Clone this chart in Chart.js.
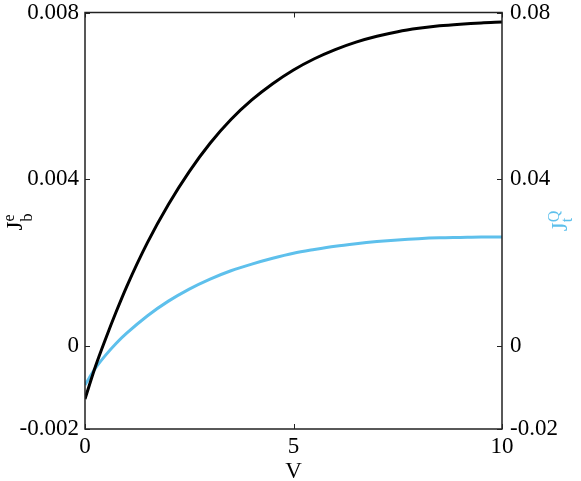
<!DOCTYPE html>
<html lang="en">
<head>
    <meta charset="UTF-8">
    <title>Jb and Jt vs V</title>
    <style>
        html, body { margin: 0; padding: 0; background: #fff; }
        #chart { display: block; }
    </style>
    <script src="https://cdn.jsdelivr.net/npm/chart.js@4/dist/chart.umd.min.js"></script>
</head>
<body>
<canvas id="chart" width="581" height="481"></canvas>
<script>
    // values
    const vValues = [0, 0.25, 0.5, 0.75, 1, 1.5, 2, 2.5, 3, 3.5, 4, 4.5, 5, 5.5, 6, 6.5, 7, 7.5, 8, 8.5, 9, 9.5, 10];
    const jbValues = [-0.00128, -0.00050, 0.00018, 0.00082, 0.00142, 0.00248, 0.00339, 0.00418, 0.00486, 0.00543,
        0.00590, 0.00629, 0.00662, 0.00689, 0.00711, 0.00729, 0.00743, 0.00754, 0.00762, 0.00768, 0.00772, 0.00775, 0.00777];
    const jtValues = [-0.0094, -0.0054, -0.0022, 0.0006, 0.0030, 0.0072, 0.0107, 0.0136, 0.0160, 0.0180,
        0.0196, 0.0210, 0.0222, 0.0231, 0.0239, 0.0245, 0.0250, 0.0254, 0.0257, 0.0259, 0.0260, 0.0261, 0.0261];

    const xTicks = [0, 5, 10];
    const xTickLabels = ['0', '5', '10'];
    const leftTicks = [-0.002, 0, 0.004, 0.008];
    const leftTickLabels = ['-0.002', '0', '0.004', '0.008'];
    const rightTicks = [-0.02, 0, 0.04, 0.08];
    const rightTickLabels = ['-0.02', '0', '0.04', '0.08'];

    const BLUE = '#5ec0ec';
    const FONT = 'Liberation Serif';
    const tickFont = { family: FONT, size: 23 };

    function setTicks(values) {
        return function (scale) {
            scale.ticks = values.map(v => ({ value: v }));
        };
    }
    function labelFrom(values, labels) {
        return function (value) {
            const i = values.findIndex(v => Math.abs(v - value) < 1e-9);
            return i >= 0 ? labels[i] : '';
        };
    }

    // frame, inward ticks and the axis titles with sub/superscripts
    const framePlugin = {
        id: 'frame',
        afterDraw(chart) {
            const ctx = chart.ctx;
            const a = chart.chartArea;
            const sx = chart.scales.x, sy = chart.scales.y, sy1 = chart.scales.y1;
            const tl = 5;
            ctx.save();
            ctx.strokeStyle = '#222';
            ctx.lineWidth = 1.5;
            ctx.strokeRect(a.left, a.top, a.right - a.left, a.bottom - a.top);
            ctx.lineWidth = 1;
            ctx.beginPath();
            xTicks.forEach(v => {
                const px = Math.round(sx.getPixelForValue(v)) + 0.5;
                ctx.moveTo(px, a.bottom); ctx.lineTo(px, a.bottom - tl);
                ctx.moveTo(px, a.top); ctx.lineTo(px, a.top + tl);
            });
            leftTicks.forEach(v => {
                const py = Math.round(sy.getPixelForValue(v)) + 0.5;
                ctx.moveTo(a.left, py); ctx.lineTo(a.left + tl, py);
            });
            rightTicks.forEach(v => {
                const py = Math.round(sy1.getPixelForValue(v)) + 0.5;
                ctx.moveTo(a.right, py); ctx.lineTo(a.right - tl, py);
            });
            ctx.stroke();

            // x title
            ctx.fillStyle = '#000';
            ctx.font = '23px "' + FONT + '"';
            ctx.textAlign = 'center';
            ctx.textBaseline = 'alphabetic';
            ctx.fillText('V', (a.left + a.right) / 2, 478);

            drawRotatedTitle(ctx, 22, 222, 'J', 'e', 'b', '#000', 10);
            drawRotatedTitle(ctx, 567, 221, 'J', 'Q', 't', BLUE, 5);
            ctx.restore();
        }
    };

    function drawRotatedTitle(ctx, cx, cy, main, sup, sub, color, subDrop) {
        ctx.save();
        ctx.translate(cx, cy);
        ctx.rotate(-Math.PI / 2);
        ctx.fillStyle = color;
        ctx.textAlign = 'left';
        ctx.textBaseline = 'alphabetic';
        ctx.font = '23px "' + FONT + '"';
        const wMain = ctx.measureText(main).width;
        ctx.font = '16px "' + FONT + '"';
        const wSmall = Math.max(ctx.measureText(sup).width, ctx.measureText(sub).width);
        const x0 = -(wMain + wSmall) / 2;
        ctx.font = '23px "' + FONT + '"';
        ctx.fillText(main, x0, 0);
        ctx.font = '16px "' + FONT + '"';
        ctx.fillText(sup, x0 + wMain, -8);
        ctx.fillText(sub, x0 + wMain, subDrop);
        ctx.restore();
    }

    new Chart(document.getElementById('chart'), {
        type: 'line',
        data: {
            datasets: [{
                label: 'Jb',
                data: vValues.map((v, i) => ({ x: v, y: jbValues[i] })),
                yAxisID: 'y',
                borderColor: '#000',
                borderWidth: 3,
                pointRadius: 0,
                cubicInterpolationMode: 'monotone',
                fill: false
            }, {
                label: 'Jt',
                data: vValues.map((v, i) => ({ x: v, y: jtValues[i] })),
                yAxisID: 'y1',
                borderColor: BLUE,
                borderWidth: 3,
                pointRadius: 0,
                cubicInterpolationMode: 'monotone',
                fill: false
            }]
        },
        options: {
            responsive: false,
            animation: false,
            layout: { padding: { top: 12.5, left: 0, right: 0, bottom: 0 } },
            plugins: { legend: { display: false }, tooltip: { enabled: false } },
            scales: {
                x: {
                    type: 'linear',
                    min: 0, max: 10,
                    afterBuildTicks: setTicks(xTicks),
                    afterFit(scale) { scale.height = 52; scale.paddingLeft = 0; scale.paddingRight = 0; },
                    grid: { display: false, drawTicks: false },
                    border: { display: false },
                    ticks: {
                        font: tickFont, color: '#000', padding: 4, maxRotation: 0,
                        callback: labelFrom(xTicks, xTickLabels)
                    }
                },
                y: {
                    type: 'linear',
                    position: 'left',
                    min: -0.002, max: 0.008,
                    afterBuildTicks: setTicks(leftTicks),
                    afterFit(scale) { scale.width = 85; scale.paddingTop = 0; scale.paddingBottom = 0; },
                    grid: { display: false, drawTicks: false },
                    border: { display: false },
                    ticks: {
                        font: tickFont, color: '#000', padding: 6,
                        callback: labelFrom(leftTicks, leftTickLabels)
                    }
                },
                y1: {
                    type: 'linear',
                    position: 'right',
                    min: -0.02, max: 0.08,
                    afterBuildTicks: setTicks(rightTicks),
                    afterFit(scale) { scale.width = 79; scale.paddingTop = 0; scale.paddingBottom = 0; },
                    grid: { display: false, drawTicks: false },
                    border: { display: false },
                    ticks: {
                        font: tickFont, color: '#000', padding: 8,
                        callback: labelFrom(rightTicks, rightTickLabels)
                    }
                }
            }
        },
        plugins: [framePlugin]
    });
</script>
</body>
</html>
